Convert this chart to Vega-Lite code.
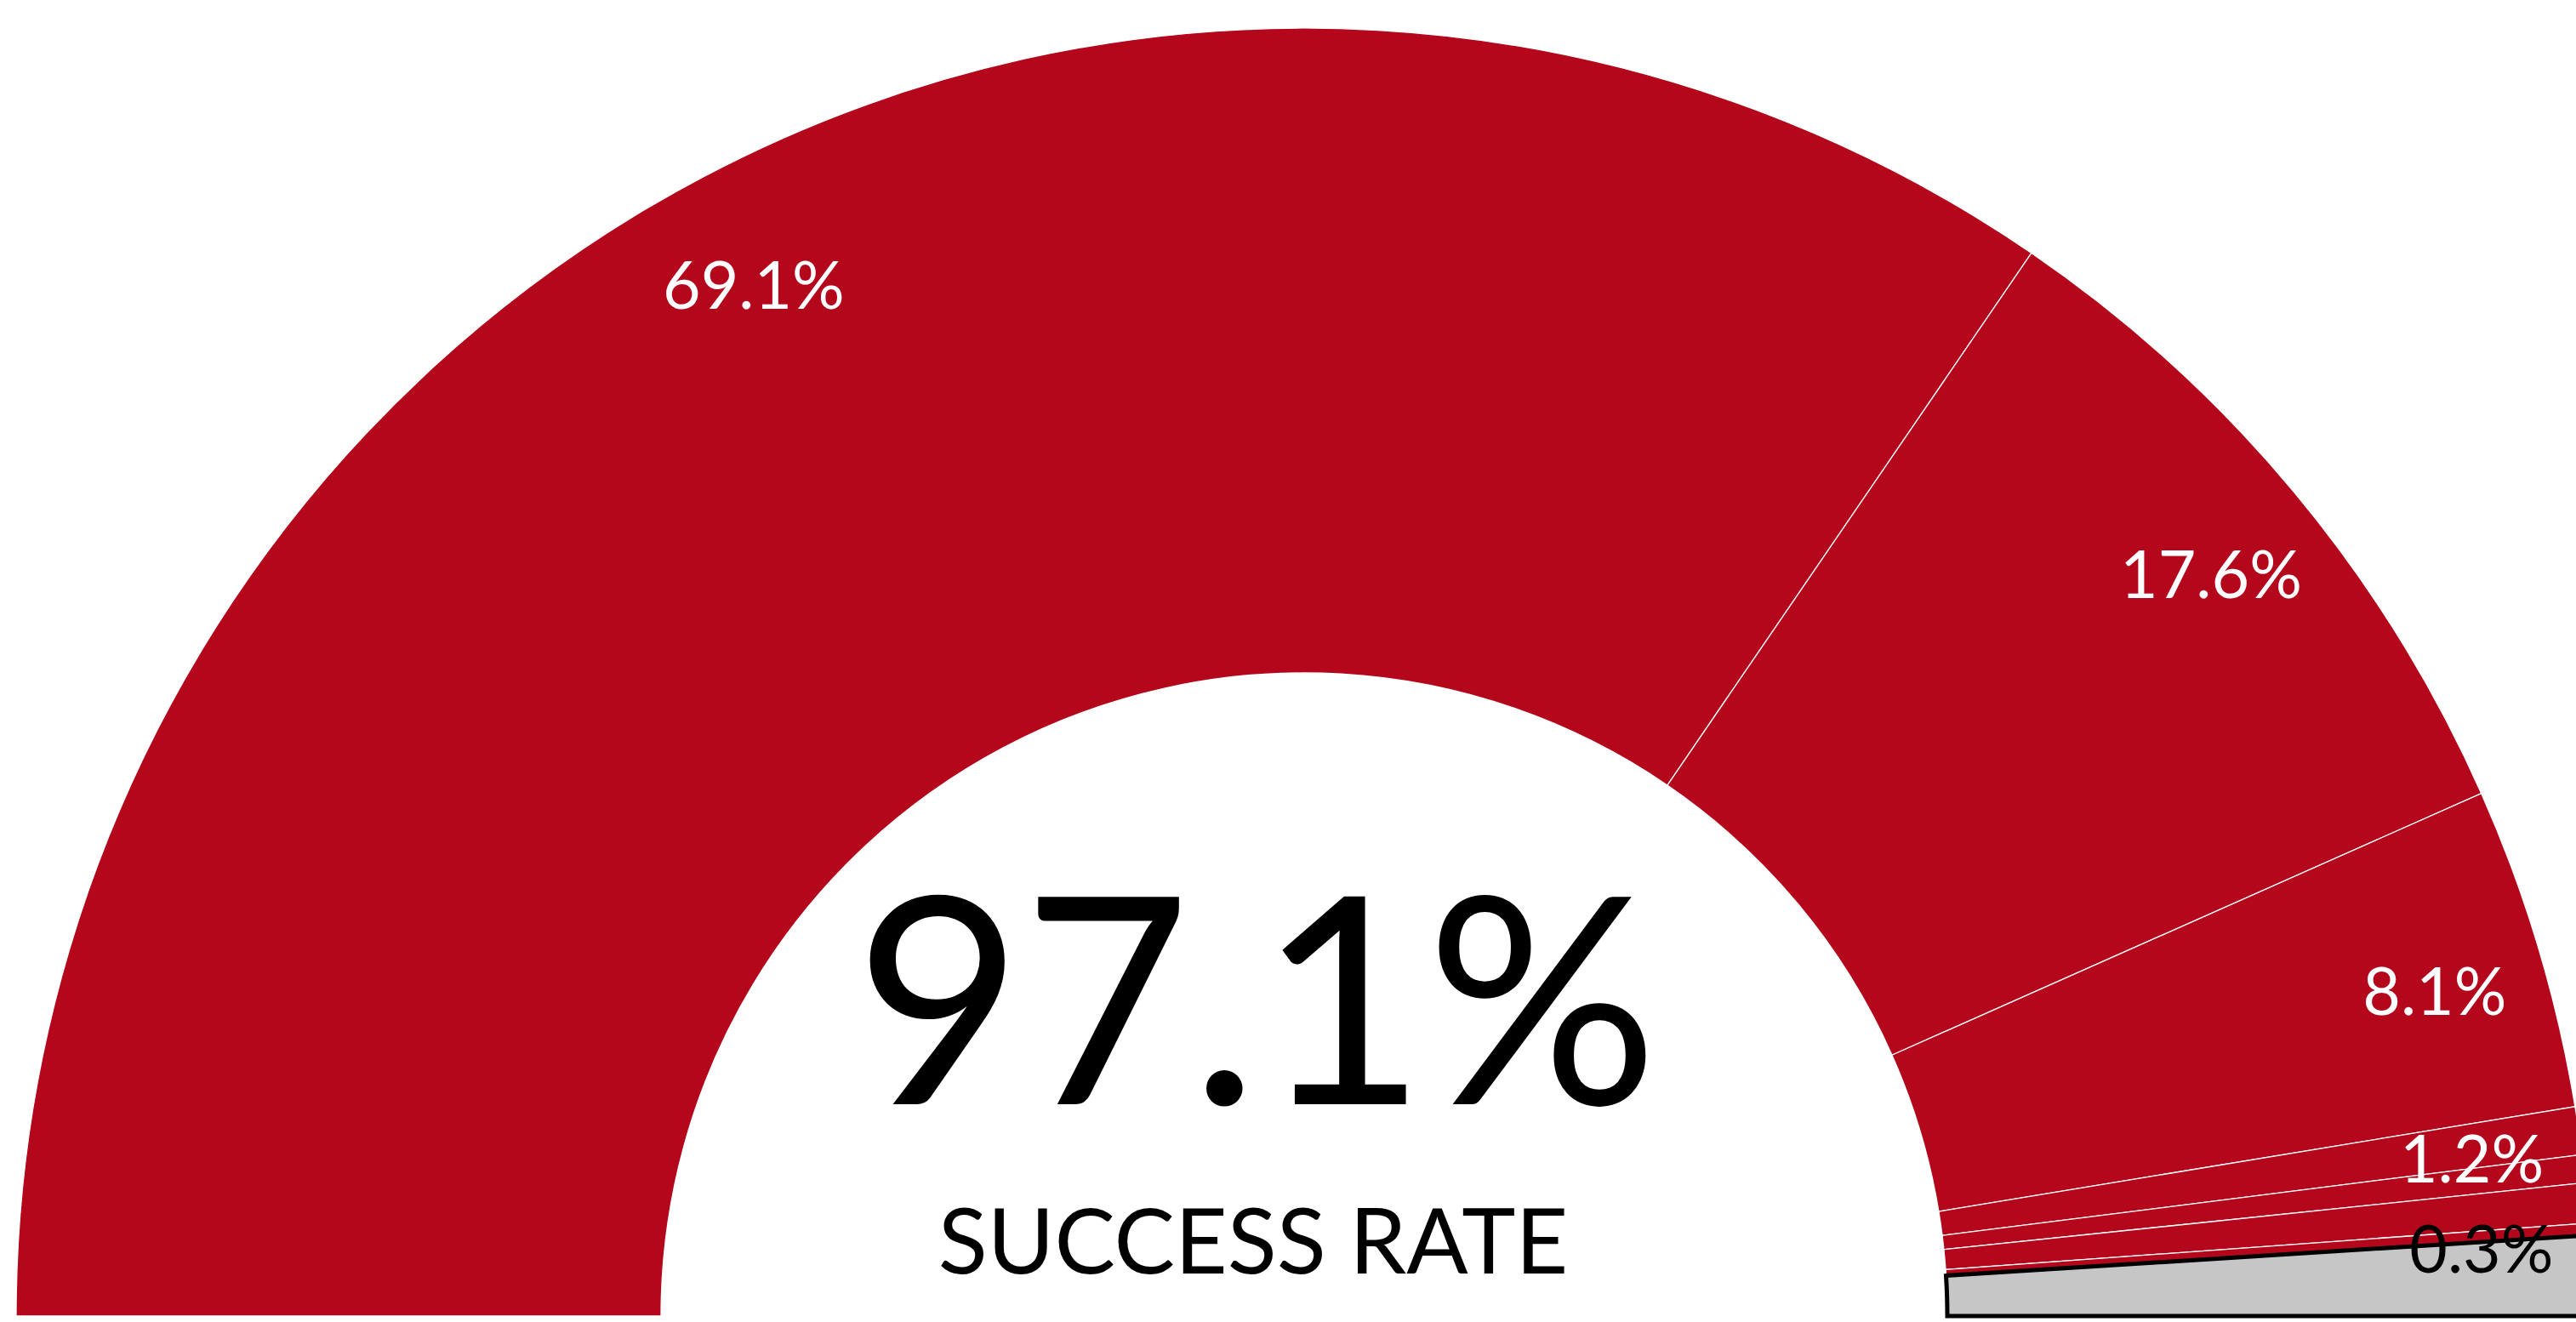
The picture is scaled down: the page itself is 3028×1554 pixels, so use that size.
{
  "$schema": "https://vega.github.io/schema/vega-lite/v6.json",
  "width": 3028,
  "height": 1554,
  "autosize": {"type": "none"},
  "padding": 0,
  "background": "#FFFFFF",
  "config": {"view": {"stroke": null}},
  "datasets": {
    "slices": [
      {"i": 1, "status": "success", "value": 69.1, "label": "69.1%"},
      {"i": 2, "status": "success", "value": 17.6, "label": "17.6%"},
      {"i": 3, "status": "success", "value": 8.1, "label": "8.1%"},
      {"i": 4, "status": "success", "value": 1.2, "label": "1.2%"},
      {"i": 5, "status": "success", "value": 0.7, "label": ""},
      {"i": 6, "status": "success", "value": 1.0, "label": ""},
      {"i": 7, "status": "success", "value": 0.3, "label": "0.3%"},
      {"i": 8, "status": "fail", "value": 2.0, "label": ""}
    ],
    "center": [
      {"big": "97.1%", "small": "SUCCESS RATE"}
    ]
  },
  "layer": [
    {
      "data": {"name": "slices"},
      "mark": {"type": "arc", "x": 1533, "y": 1547, "innerRadius": 756, "outerRadius": 1514},
      "encoding": {
        "theta": {"field": "value", "type": "quantitative", "stack": true, "scale": {"domain": [0, 100], "range": [-1.5707963, 1.5707963]}},
        "order": {"field": "i", "type": "quantitative"},
        "color": {"field": "status", "type": "nominal", "scale": {"domain": ["success", "fail"], "range": ["#B5071C", "#C6C6C6"]}, "legend": null},
        "stroke": {"condition": {"test": "datum.status === 'fail'", "value": "#000000"}, "value": "#FFFFFF"},
        "strokeWidth": {"condition": {"test": "datum.status === 'fail'", "value": 5}, "value": 1.3}
      }
    },
    {
      "data": {"name": "slices"},
      "mark": {"type": "text", "x": 1533, "y": 1547, "radius": 1387, "font": "Lato", "fontSize": 77, "align": "center", "baseline": "middle", "dy": 20},
      "encoding": {
        "theta": {"field": "value", "type": "quantitative", "stack": true, "scale": {"domain": [0, 100], "range": [-1.5707963, 1.5707963]}},
        "order": {"field": "i", "type": "quantitative"},
        "text": {"field": "label", "type": "nominal"},
        "color": {"condition": {"test": "datum.value < 0.5", "value": "#000000"}, "value": "#FFFFFF"}
      }
    },
    {
      "data": {"name": "center"},
      "mark": {"type": "text", "x": 1477, "y": 1298, "font": "Lato", "fontSize": 340, "align": "center", "baseline": "alphabetic", "color": "#000000"},
      "encoding": {"text": {"field": "big", "type": "nominal"}}
    },
    {
      "data": {"name": "center"},
      "mark": {"type": "text", "x": 1473, "y": 1497, "font": "Lato", "fontSize": 107, "align": "center", "baseline": "alphabetic", "color": "#000000"},
      "encoding": {"text": {"field": "small", "type": "nominal"}}
    }
  ]
}
